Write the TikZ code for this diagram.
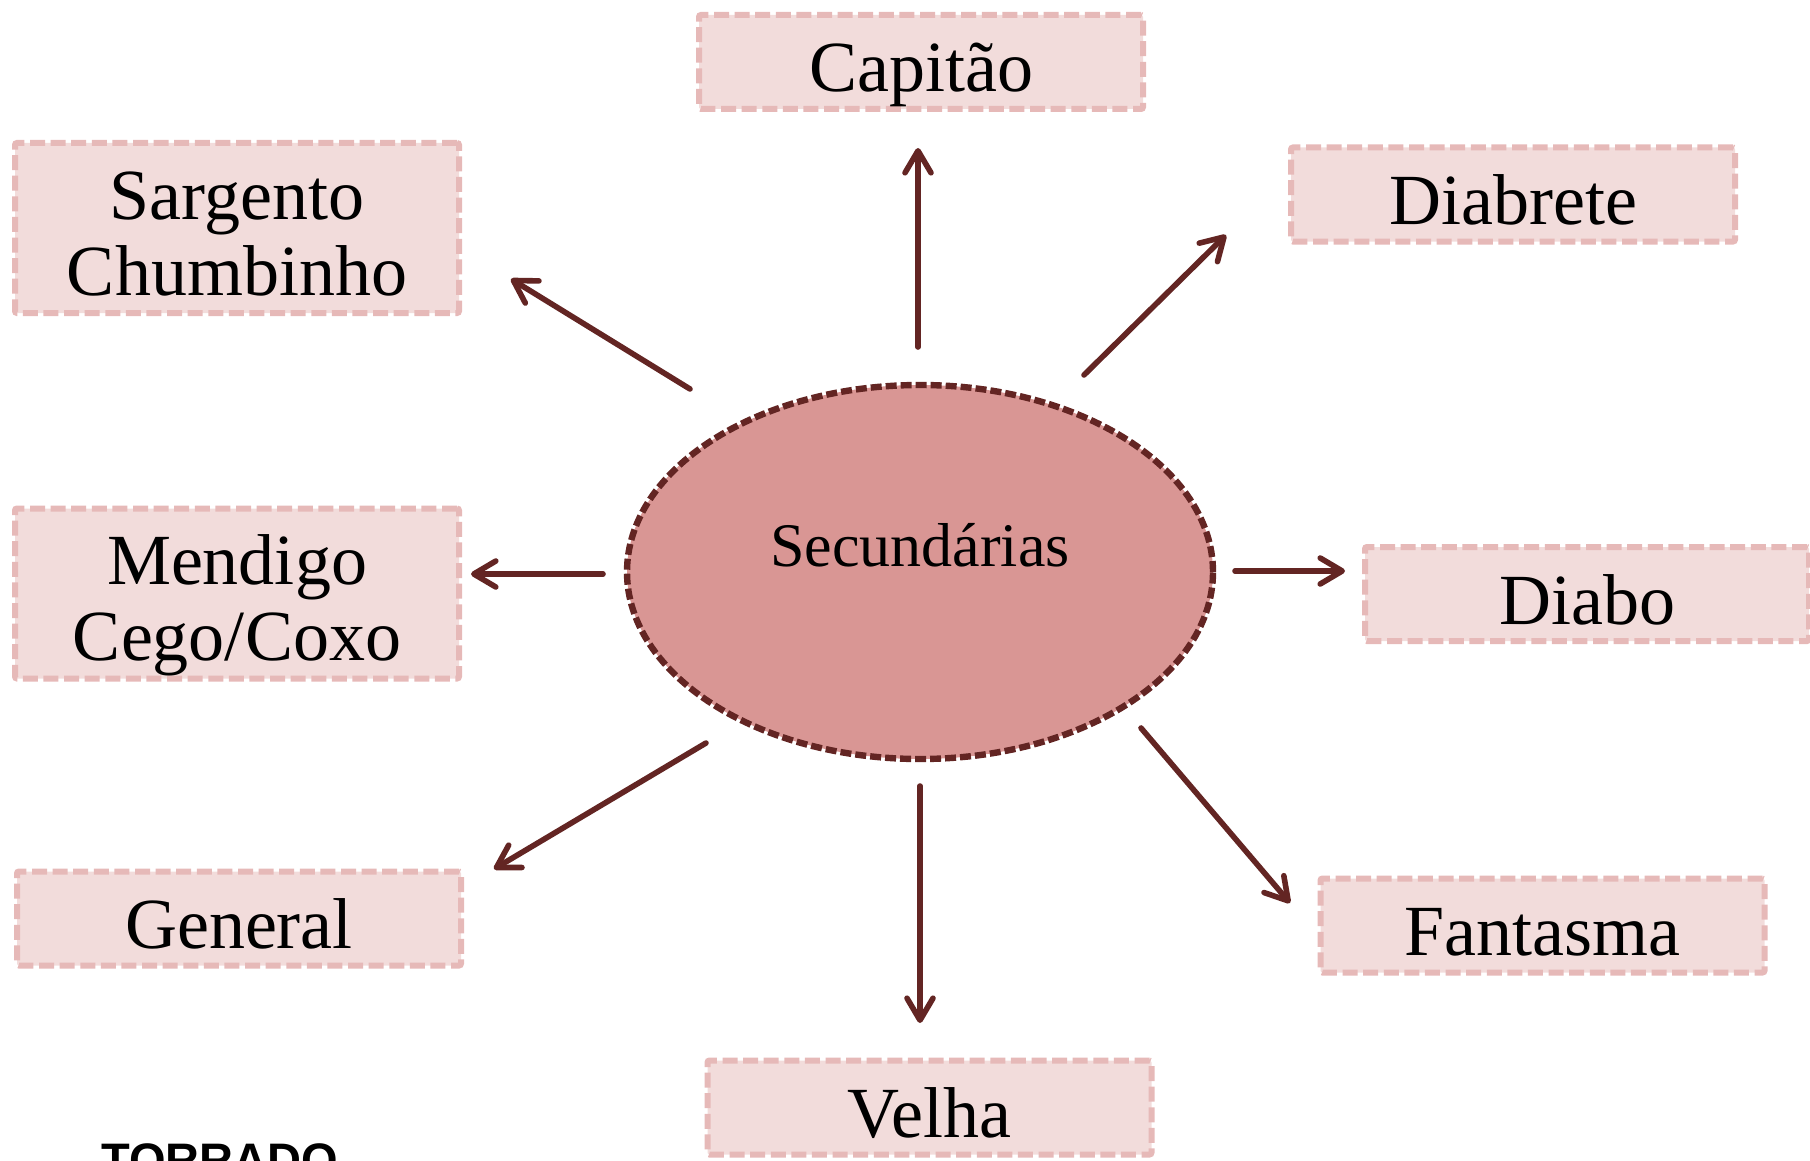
\documentclass[tikz,border=0pt]{standalone}
\usepackage{fontspec}
\setmainfont{Liberation Serif}
\usepackage{tikz}
\usetikzlibrary{arrows.meta,shapes.geometric}

\definecolor{boxfill}{HTML}{F2DCDB}
\definecolor{boxline}{HTML}{E6B9B8}
\definecolor{ellfill}{HTML}{D99694}
\definecolor{darkred}{HTML}{632523}

\tikzset{
  charbox/.style={draw=boxline, fill=boxfill, line width=3pt, dash pattern=on 7.5pt off 2.8pt,
    rounded corners=1pt, minimum width=222pt, minimum height=47pt, inner sep=0pt,
    align=center, font=\fontsize{36}{38}\selectfont},
  oneline/.style={text height=30pt, text depth=0pt},
  twoline/.style={minimum height=85pt, text height=67pt, text depth=0pt},
  arr/.style={draw=darkred, line width=2.8pt, line cap=round,
    -{Straight Barb[length=11pt,width=13pt,round]}}
}

\begin{document}
\begin{tikzpicture}[x=0.5pt,y=0.5pt,yscale=-1,xscale=1]
  \useasboundingbox (0,0) rectangle (1810,1161);
  %Ellipse
  \node[ellipse, draw=darkred, fill=ellfill, line width=3.2pt, dash pattern=on 5.5pt off 2pt,
    minimum width=293pt, minimum height=187pt, inner sep=0pt, text height=0pt, text depth=6pt,
    font=\fontsize{31}{34}\selectfont] (sec) at (920,572) {Secundárias};
  %Shape: Rectangle
  \node[charbox,oneline] (cap) at (921,62) {Capitão};
  \node[charbox,twoline] (sar) at (237,228) {Sargento\\Chumbinho};
  \node[charbox,oneline] (dbt) at (1513,194.5) {Diabrete};
  \node[charbox,twoline] (men) at (237,593.5) {Mendigo\\Cego/Coxo};
  \node[charbox,oneline] (dbo) at (1587,594) {Diabo};
  \node[charbox,oneline] (gen) at (239,918.5) {General};
  \node[charbox,oneline] (fan) at (1542.5,925.5) {Fantasma};
  \node[charbox,oneline] (vel) at (929.5,1107.5) {Velha};
  %Straight Lines
  \coordinate (sec-cap) at (918,347);  \coordinate (to-cap) at (918,148);
  \coordinate (sec-dbt) at (1084,375); \coordinate (to-dbt) at (1226,235);
  \coordinate (sec-dbo) at (1235,571); \coordinate (to-dbo) at (1345,571);
  \coordinate (sec-fan) at (1141,728); \coordinate (to-fan) at (1290,903);
  \coordinate (sec-vel) at (920,786);  \coordinate (to-vel) at (920,1023);
  \coordinate (sec-gen) at (706,743);  \coordinate (to-gen) at (494,869);
  \coordinate (sec-men) at (603,574);  \coordinate (to-men) at (471,574);
  \coordinate (sec-sar) at (690,389);  \coordinate (to-sar) at (511,279);
  \foreach \k in {cap,dbt,dbo,fan,vel,gen,men,sar}
    \draw[arr] (sec-\k) -- (to-\k);
  % Text Node
  \node[anchor=base west, inner sep=0pt, font=\fontspec{Liberation Sans}\bfseries\fontsize{23.5}{26}\selectfont] (foot) at (101,1176) {TORRADO};
\end{tikzpicture}
\end{document}
